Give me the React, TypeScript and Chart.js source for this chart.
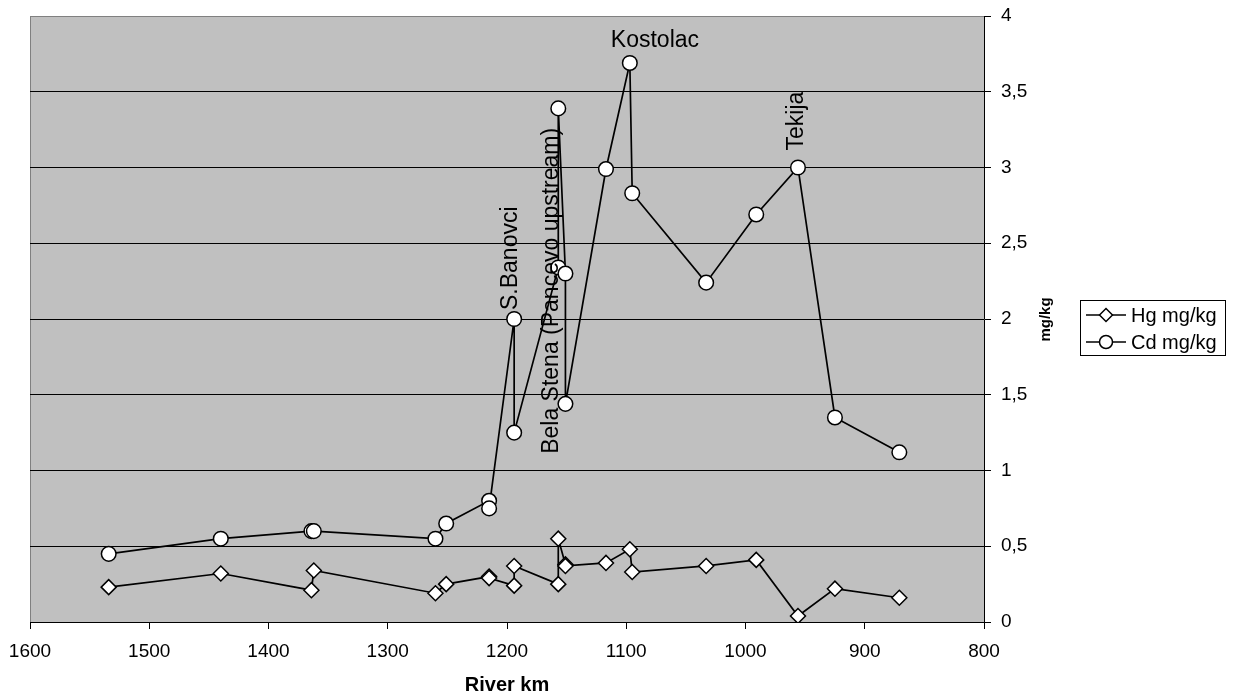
import React, { useEffect, useRef } from 'react';
import { Chart, registerables } from 'chart.js';

Chart.register(...registerables);

const FONT = "'Liberation Sans', Arial, Helvetica, sans-serif";

// River km positions and concentrations (mg/kg)
const hgKm = [1534, 1440, 1364, 1362, 1260, 1251, 1215, 1215, 1194, 1194, 1157, 1157, 1151, 1151, 1117, 1097, 1095, 1033, 991, 956, 925, 871];
const hgValues = [0.23, 0.32, 0.21, 0.34, 0.19, 0.25, 0.30, 0.29, 0.24, 0.37, 0.25, 0.55, 0.38, 0.37, 0.39, 0.48, 0.33, 0.37, 0.41, 0.04, 0.22, 0.16];

const cdKm = [1534, 1440, 1364, 1362, 1260, 1251, 1215, 1215, 1194, 1194, 1157, 1157, 1151, 1151, 1117, 1097, 1095, 1033, 991, 956, 925, 871];
const cdValues = [0.45, 0.55, 0.60, 0.60, 0.55, 0.65, 0.80, 0.75, 2.0, 1.25, 2.34, 3.39, 2.30, 1.44, 2.99, 3.69, 2.83, 2.24, 2.69, 3.0, 1.35, 1.12];

const seriesLabels = ['Hg mg/kg', 'Cd mg/kg'];
const xAxisTitle = 'River km';
const yAxisTitle = 'mg/kg';

// Site labels attached to Cd points (index into Cd series)
const siteLabels = [
  { text: 'Kostolac', index: 15, rotate: false, dx: -19, dy: -16 },
  { text: 'Tekija', index: 19, rotate: true, dx: 5, dy: -17 },
  { text: 'S.Banovci', index: 8, rotate: true, dx: 3, dy: -9 },
  { text: 'Bela Stena (Pancevo upstream)', index: 13, rotate: true, dx: -7, dy: 50 },
];

export default function App() {
  const ref = useRef<HTMLCanvasElement>(null);

  useEffect(() => {
    const canvas = ref.current;
    if (!canvas) return;

    const plotBg = {
      id: 'plotBg',
      beforeDraw(chart: any) {
        const { ctx, chartArea: a } = chart;
        ctx.save();
        ctx.fillStyle = '#c0c0c0';
        ctx.fillRect(a.left, a.top, a.right - a.left, a.bottom - a.top);
        ctx.strokeStyle = '#808080';
        ctx.lineWidth = 1;
        ctx.beginPath();
        ctx.moveTo(a.left + 0.5, a.bottom);
        ctx.lineTo(a.left + 0.5, a.top + 0.5);
        ctx.lineTo(a.right, a.top + 0.5);
        ctx.stroke();
        ctx.restore();
      },
    };

    const extras = {
      id: 'extras',
      afterDatasetsDraw(chart: any) {
        const { ctx } = chart;
        const meta = chart.getDatasetMeta(1);
        ctx.save();
        ctx.fillStyle = '#000';
        ctx.font = `23px ${FONT}`;
        ctx.textBaseline = 'alphabetic';
        ctx.textAlign = 'left';
        siteLabels.forEach((l) => {
          const p = meta.data[l.index];
          if (!p) return;
          ctx.save();
          ctx.translate(p.x + l.dx, p.y + l.dy);
          if (l.rotate) ctx.rotate(-Math.PI / 2);
          ctx.fillText(l.text, 0, 0);
          ctx.restore();
        });
        ctx.restore();
      },
      afterDraw(chart: any) {
        const { ctx, chartArea: a } = chart;
        ctx.save();
        ctx.fillStyle = '#000';
        // x axis title
        ctx.font = `bold 20px ${FONT}`;
        ctx.textAlign = 'center';
        ctx.textBaseline = 'middle';
        ctx.fillText(xAxisTitle, (a.left + a.right) / 2, 685);
        // y axis title
        ctx.save();
        ctx.translate(a.right + 62, 319.5);
        ctx.rotate(-Math.PI / 2);
        ctx.font = `bold 15px ${FONT}`;
        ctx.fillText(yAxisTitle, 0, 0);
        ctx.restore();

        // legend
        const bx = 1080.5, by = 300.5, bw = 145, bh = 55;
        ctx.strokeStyle = '#000';
        ctx.lineWidth = 1;
        ctx.strokeRect(bx, by, bw, bh);
        const rows = [315, 342];
        ctx.font = `20px ${FONT}`;
        ctx.textAlign = 'left';
        ctx.textBaseline = 'middle';
        chart.data.datasets.forEach((ds: any, i: number) => {
          const y = rows[i];
          ctx.lineWidth = 1.5;
          ctx.strokeStyle = '#000';
          ctx.beginPath();
          ctx.moveTo(1086, y);
          ctx.lineTo(1126, y);
          ctx.stroke();
          ctx.fillStyle = '#fff';
          ctx.beginPath();
          if (ds.pointStyle === 'rectRot') {
            const r = 6.5;
            ctx.moveTo(1106 - r, y);
            ctx.lineTo(1106, y - r);
            ctx.lineTo(1106 + r, y);
            ctx.lineTo(1106, y + r);
            ctx.closePath();
          } else {
            ctx.arc(1106, y, 6.5, 0, Math.PI * 2);
          }
          ctx.fill();
          ctx.stroke();
          ctx.fillStyle = '#000';
          ctx.fillText(ds.label, 1131, y + 1);
        });
        ctx.restore();
      },
    };

    const chart = new Chart(canvas, {
      type: 'scatter',
      data: {
        datasets: [
          {
            label: seriesLabels[0],
            data: hgKm.map((k, i) => ({ x: k, y: hgValues[i] })),
            showLine: true,
            borderColor: '#000',
            borderWidth: 1.7,
            pointStyle: 'rectRot',
            pointRadius: 7.5,
            pointBackgroundColor: '#fff',
            pointBorderColor: '#000',
            pointBorderWidth: 1.5,
            tension: 0,
          },
          {
            label: seriesLabels[1],
            data: cdKm.map((k, i) => ({ x: k, y: cdValues[i] })),
            showLine: true,
            borderColor: '#000',
            borderWidth: 1.7,
            pointStyle: 'circle',
            pointRadius: 7.3,
            pointBackgroundColor: '#fff',
            pointBorderColor: '#000',
            pointBorderWidth: 1.5,
            tension: 0,
          },
        ],
      },
      options: {
        animation: false,
        responsive: false,
        devicePixelRatio: 1,
        layout: { autoPadding: false, padding: { left: 30, top: 16, right: 193, bottom: 0 } },
        plugins: {
          legend: { display: false },
          tooltip: { enabled: false },
        },
        scales: {
          x: {
            type: 'linear',
            reverse: true,
            min: 800,
            max: 1600,
            ticks: {
              stepSize: 100,
              color: '#000',
              font: { family: FONT, size: 19 },
              padding: 11,
              maxRotation: 0,
              autoSkip: false,
              callback: (v: any) => String(v),
            },
            grid: { drawOnChartArea: false, drawTicks: true, tickLength: 7, color: '#000' },
            border: { color: '#000', width: 1 },
            afterFit: (s: any) => {
              s.height = 72;
              s.paddingLeft = 0;
              s.paddingRight = 0;
            },
          },
          y: {
            position: 'right',
            min: 0,
            max: 4,
            ticks: {
              stepSize: 0.5,
              color: '#000',
              font: { family: FONT, size: 19 },
              padding: 10,
              callback: (v: any) => String(v).replace('.', ','),
            },
            grid: {
              color: (c: any) => (c.tick && c.tick.value === 4 ? '#808080' : '#000'),
              tickColor: '#000',
              tickLength: 7,
              lineWidth: 1,
            },
            border: { color: '#000', width: 1 },
            afterFit: (s: any) => {
              s.width = 60;
              s.paddingTop = 0;
              s.paddingBottom = 0;
            },
          },
        },
      },
      plugins: [plotBg, extras],
    } as any);

    return () => chart.destroy();
  }, []);

  return (
    <div style={{ position: 'fixed', left: 0, top: 0, width: 1237, height: 694, background: '#fff' }}>
      <canvas ref={ref} width={1237} height={694} style={{ display: 'block' }} />
    </div>
  );
}
